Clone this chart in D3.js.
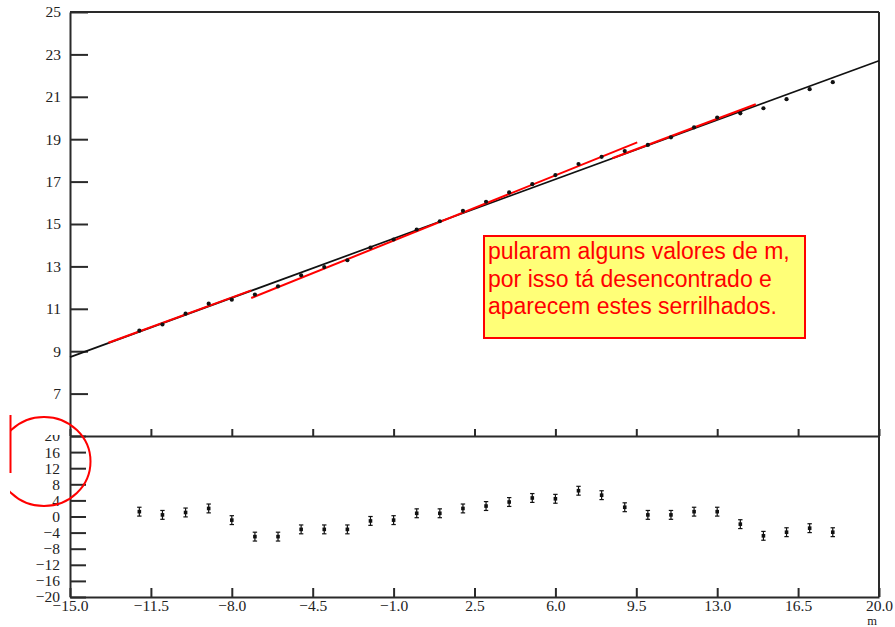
<!DOCTYPE html>
<html>
<head>
<meta charset="utf-8">
<script src="https://cdn.jsdelivr.net/npm/d3@7"></script>
<style>
  html, body { margin: 0; padding: 0; background: #fff; }
  svg { display: block; }
</style>
</head>
<body>
<svg id="chart" width="895" height="627"></svg>
<script>
// m values of the measured points
const mValues = [-12,-11,-10,-9,-8,-7,-6,-5,-4,-3,-2,-1,0,1,2,3,4,5,6,7,8,9,10,11,12,13,14,15,16,17,18];
// measured value at each m (upper panel)
const measured = [9.97,10.26,10.77,11.24,11.43,11.67,12.06,12.58,12.97,13.29,13.89,14.27,14.74,15.13,15.62,16.05,16.49,16.88,17.31,17.83,18.17,18.44,18.73,19.09,19.56,20.02,20.22,20.46,20.89,21.36,21.69];
// residuals (lower panel) and their error bars
const residuals = [1.2,0.4,1.0,2.0,-0.9,-5.0,-5.0,-3.2,-3.2,-3.2,-1.1,-0.9,0.8,0.8,2.0,2.6,3.6,4.6,4.4,6.4,5.3,2.3,0.4,0.4,1.2,1.2,-1.9,-4.8,-3.9,-2.9,-3.9];
const resErrors = [1.1,1.1,1.1,1.1,1.1,1.1,1.1,1.1,1.1,1.1,1.1,1.1,1.1,1.1,1.1,1.1,1.1,1.1,1.1,1.1,1.1,1.1,1.1,1.1,1.1,1.1,1.1,1.1,1.1,1.1,1.1];
// global fit line (endpoints over the whole m range)
const globalFit = [[-15, 8.72], [20, 22.70]];
// partial fits over separate runs of m
const partialFits = [
  [[-13.34, 9.40], [-7.16, 11.87]],
  [[-7.16, 11.51], [9.54, 18.85]],
  [[8.46, 18.10], [14.67, 20.65]]
];
// tick values
const xTicks = [-15, -11.5, -8, -4.5, -1, 2.5, 6, 9.5, 13, 16.5, 20];
const yTopTicks = [7, 9, 11, 13, 15, 17, 19, 21, 23, 25];
const yResTicks = [-20, -16, -12, -8, -4, 0, 4, 8, 12, 16, 20];
const xTitle = "m";
const noteLines = ["pularam alguns valores de m,", "por isso tá desencontrado e", "aparecem estes serrilhados."];

const svg = d3.select("#chart");
const padL = 70, padR = 879, padT = 12, splitY = 436, padB = 597;
const axisColor = "#2a2a2a";
const serif = "'Liberation Serif', 'Times New Roman', serif";

const x = d3.scaleLinear().domain([-15, 20]).range([padL, padR]);
const yTop = d3.scaleLinear().domain([5, 25]).range([splitY, padT]);
const yRes = d3.scaleLinear().domain([-20, 20]).range([padB, splitY]);

function styleAxis(g, size) {
  g.selectAll("path.domain").attr("stroke", axisColor).attr("stroke-width", 2);
  g.selectAll(".tick line").attr("stroke", axisColor).attr("stroke-width", 2);
  g.selectAll(".tick text").attr("fill", "#222").attr("font-family", serif).attr("font-size", size);
}

// frame lines
svg.append("line").attr("x1", padL).attr("x2", padR).attr("y1", padT).attr("y2", padT)
  .attr("stroke", axisColor).attr("stroke-width", 2);
svg.append("line").attr("x1", padR).attr("x2", padR).attr("y1", padT).attr("y2", padB)
  .attr("stroke", axisColor).attr("stroke-width", 2);

// upper panel y axis
const gyTop = svg.append("g").attr("transform", `translate(${padL},0)`)
  .call(d3.axisLeft(yTop).tickValues(yTopTicks).tickFormat(d3.format("d"))
    .tickSizeInner(-18).tickSizeOuter(0).tickPadding(9));
styleAxis(gyTop, 15.5);

// lower panel y axis; its top label sits on the divider line and is cut by it
svg.append("clipPath").attr("id", "topLabelClip")
  .append("rect").attr("x", -60).attr("y", -1.5).attr("width", 60).attr("height", 20);
const gyRes = svg.append("g").attr("transform", `translate(${padL},0)`)
  .call(d3.axisLeft(yRes).tickValues(yResTicks).tickFormat(d3.format("d"))
    .tickSizeInner(-16).tickSizeOuter(0).tickPadding(10));
styleAxis(gyRes, 15.5);
gyRes.selectAll(".tick").filter(d => d === 20).select("text")
  .attr("clip-path", "url(#topLabelClip)");

// divider axis with inward ticks, no labels
const gDiv = svg.append("g").attr("transform", `translate(0,${splitY})`)
  .call(d3.axisBottom(x).tickValues(xTicks).tickFormat("").tickSizeInner(-7).tickSizeOuter(0));
styleAxis(gDiv, 15);

// bottom x axis
const gx = svg.append("g").attr("transform", `translate(0,${padB})`)
  .call(d3.axisBottom(x).tickValues(xTicks).tickFormat(d3.format(".1f"))
    .tickSizeInner(-9).tickSizeOuter(0).tickPadding(2.5));
styleAxis(gx, 15.5);

svg.append("text").attr("x", x(20) - 7).attr("y", 624.5).attr("text-anchor", "middle")
  .attr("font-family", serif).attr("font-size", 12.5).attr("fill", "#222").text(xTitle);

// upper panel: fit lines and points
const line = d3.line().x(d => x(d[0])).y(d => yTop(d[1]));
svg.append("path").datum(globalFit).attr("d", line)
  .attr("fill", "none").attr("stroke", "#111").attr("stroke-width", 1.7);
svg.selectAll("path.partial").data(partialFits).enter().append("path").attr("class", "partial")
  .attr("d", line).attr("fill", "none").attr("stroke", "#ff0000").attr("stroke-width", 2);
svg.selectAll("circle.meas").data(mValues).enter().append("circle").attr("class", "meas")
  .attr("cx", d => x(d)).attr("cy", (d, i) => yTop(measured[i])).attr("r", 2.1).attr("fill", "#111");

// lower panel: residuals with error bars
const res = svg.selectAll("g.res").data(mValues).enter().append("g").attr("class", "res");
res.append("line")
  .attr("x1", d => x(d)).attr("x2", d => x(d))
  .attr("y1", (d, i) => yRes(residuals[i] - resErrors[i]))
  .attr("y2", (d, i) => yRes(residuals[i] + resErrors[i]))
  .attr("stroke", "#111").attr("stroke-width", 1.2);
[-1, 1].forEach(s => {
  res.append("line")
    .attr("x1", d => x(d) - 2.2).attr("x2", d => x(d) + 2.2)
    .attr("y1", (d, i) => yRes(residuals[i] + s * resErrors[i]))
    .attr("y2", (d, i) => yRes(residuals[i] + s * resErrors[i]))
    .attr("stroke", "#111").attr("stroke-width", 1.2);
});
res.append("rect")
  .attr("x", d => x(d) - 1.8).attr("y", (d, i) => yRes(residuals[i]) - 1.8)
  .attr("width", 3.6).attr("height", 3.6).attr("fill", "#111");

// note box
const box = svg.append("g");
box.append("rect").attr("x", 484).attr("y", 236).attr("width", 321).attr("height", 102)
  .attr("fill", "#ffff78").attr("stroke", "#ff0000").attr("stroke-width", 2);
box.selectAll("text").data(noteLines).enter().append("text")
  .attr("x", 488).attr("y", (d, i) => 259 + i * 27.5)
  .attr("font-family", "'Liberation Sans', Arial, sans-serif").attr("font-size", 23)
  .attr("fill", "#ff0000").text(d => d);

// red highlight around the lower panel's top labels
svg.append("clipPath").attr("id", "ringClip")
  .append("rect").attr("x", 10).attr("y", 400).attr("width", 120).attr("height", 120);
svg.append("ellipse").attr("cx", 44).attr("cy", 461.5).attr("rx", 46.5).attr("ry", 44.5)
  .attr("fill", "none").attr("stroke", "#ff0000").attr("stroke-width", 2)
  .attr("clip-path", "url(#ringClip)");
svg.append("line").attr("x1", 10.5).attr("x2", 10.5).attr("y1", 415).attr("y2", 473)
  .attr("stroke", "#ff0000").attr("stroke-width", 2);
</script>
</body>
</html>
